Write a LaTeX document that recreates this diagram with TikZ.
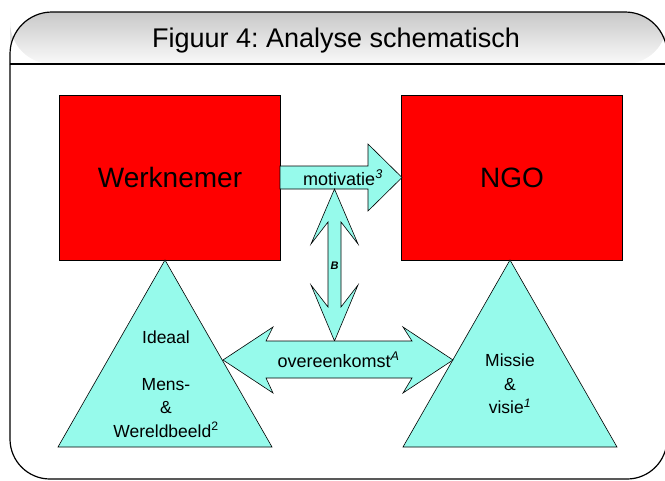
\documentclass[tikz,border=0pt]{standalone}
\usepackage{fontspec}
\setmainfont{Liberation Sans}
\frenchspacing
\definecolor{aqua}{RGB}{150,250,235}
\definecolor{headtop}{RGB}{200,200,200}
\definecolor{headbottom}{RGB}{250,250,250}
\begin{document}
\begin{tikzpicture}[x=1pt,y=-1pt,
  frame/.style={draw=black, line width=1.2pt},
  redbox/.style={draw=black, line width=0.8pt, fill=red, minimum width=221pt,
    minimum height=165pt, inner sep=0pt},
  aquashape/.style={draw=black, line width=0.6pt, fill=aqua, line join=miter},
  bigtxt/.style={font=\fontsize{28}{34}\selectfont, inner sep=0pt},
  lbl/.style={font=\fontsize{18}{22}\selectfont, inner sep=0pt},
  tri/.style={font=\fontsize{17.5}{23.5}\selectfont, align=center, inner sep=0pt}]
\useasboundingbox (0,0) rectangle (665,480);

% outer frame: shaded title band and white body
\shade[top color=headtop, bottom color=headbottom, rounded corners=42pt]
  (10,64) -- (10,12) -- (667,12) -- (667,64) -- cycle;
\draw[frame, rounded corners=42pt] (10,64) -- (10,12) -- (667,12) -- (667,64);
\draw[frame, rounded corners=40pt] (10,64) -- (10,479) -- (667,479) -- (667,64);
\draw[frame] (10,64) -- (667,64);
\node[font=\fontsize{27}{31}\selectfont, anchor=base, inner sep=0pt] (title)
  at (336,47) {Figuur 4: Analyse schematisch};

% the two red boxes
\node[redbox] (wn) at (169.5,177.5) {};
\node[redbox] (ngo) at (512,177.5) {};
\node[bigtxt, anchor=base] (wntxt) at (170,187.3) {Werknemer};
\node[bigtxt, anchor=base] (ngotxt) at (512,187.3) {NGO};

% triangles under the boxes
\draw[aquashape] (165,260) -- (272,447) -- (58,447) -- cycle;
\draw[aquashape] (510,260) -- (617,447) -- (403,447) -- cycle;
\node[tri] (ideaal) at (166,384)
  {Ideaal\\ \\Mens-\\\&\\Wereldbeeld\textsuperscript{2}};
\node[tri] (missie) at (510,384)
  {Missie\\\&\\visie\textsuperscript{\itshape 1}};

% block arrow: motivatie
\draw[aquashape] (280,166) -- (368,166) -- (368,144) -- (402,177.5)
  -- (368,211) -- (368,189) -- (280,189) -- cycle;
\node[lbl, anchor=base] (motiv) at (343,185) {motivatie\textsuperscript{\itshape 3}};

% vertical double arrow B
\draw[aquashape] (334.5,189) -- (358,244) -- (341,222) -- (341,307) -- (358,285)
  -- (334.5,341) -- (311,285) -- (328,307) -- (328,222) -- (311,244) -- cycle;
\node[font=\fontsize{11}{13}\selectfont\bfseries\itshape, anchor=base, inner sep=0pt]
  (b) at (334.5,269) {B};

% horizontal double arrow: overeenkomst
\draw[aquashape] (223,360) -- (273,327) -- (266,341) -- (412,341) -- (403,327)
  -- (453,360) -- (403,393) -- (412,378) -- (266,378) -- (273,393) -- cycle;
\node[lbl, anchor=base] (overeen) at (338.5,367) {overeenkomst\textsuperscript{\itshape A}};
\end{tikzpicture}
\end{document}
